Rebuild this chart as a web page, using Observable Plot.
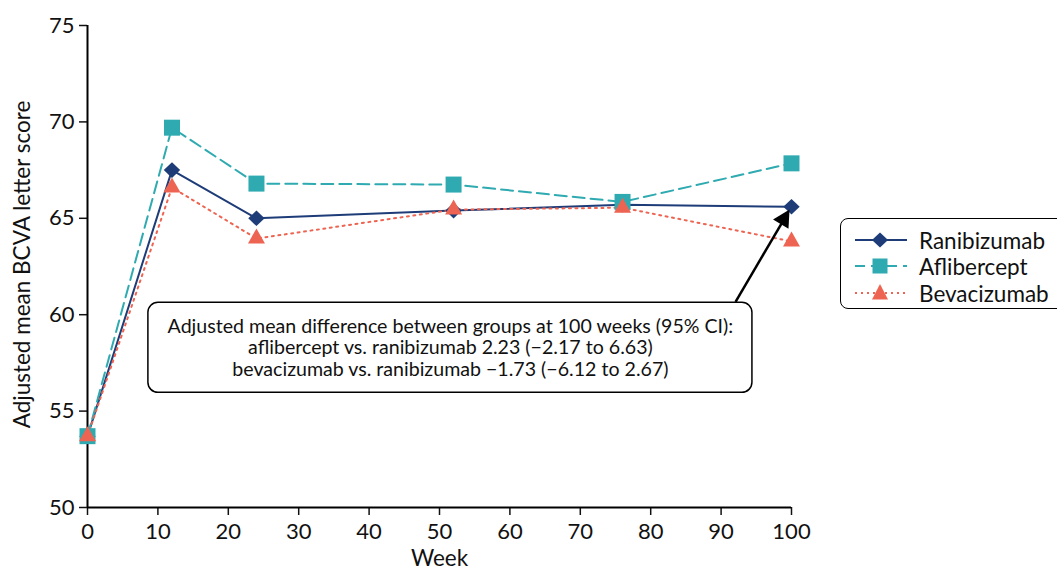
<!DOCTYPE html>
<html>
<head>
<meta charset="utf-8">
<script src="https://cdn.jsdelivr.net/npm/d3@7"></script>
<script src="https://cdn.jsdelivr.net/npm/@observablehq/plot@0.6"></script>
<style>
  html, body { margin: 0; padding: 0; background: #fff; overflow: hidden; }
  #wrap { position: relative; width: 1057px; height: 572px; font-family: Lato, "Noto Sans", sans-serif; }
  #legend { position: absolute; left: 840px; top: 218px; width: 240px; height: 91px;
            border: 1.5px solid #000; border-radius: 8px; box-sizing: border-box; background: #fff; }
  .row { position: absolute; left: 12px; height: 26px; display: flex; align-items: center; font-size: 22.5px; color: #111; }
  .row svg { margin-right: 12px; }
</style>
</head>
<body>
<div id="wrap"><div id="chart"></div><div id="legend"></div></div>
<script>
// ---- data ----
const weeks = [0, 12, 24, 52, 76, 100];
const ranibizumab = [53.7, 67.5, 65.0, 65.4, 65.7, 65.6];
const aflibercept = [53.7, 69.7, 66.8, 66.75, 65.85, 67.85];
const bevacizumab = [53.7, 66.6, 63.95, 65.45, 65.55, 63.8];
const seriesNames = ["Ranibizumab", "Aflibercept", "Bevacizumab"];
const xTicks = [0, 10, 20, 30, 40, 50, 60, 70, 80, 90, 100];
const yTicks = [50, 55, 60, 65, 70, 75];
const xLabel = "Week";
const yLabel = "Adjusted mean BCVA letter score";

// annotation (data coordinates)
const noteLines = [
  "Adjusted mean difference between groups at 100 weeks (95% CI):",
  "aflibercept vs. ranibizumab 2.23 (\u22122.17 to 6.63)",
  "bevacizumab vs. ranibizumab \u22121.73 (\u22126.12 to 2.67)"
];
const noteBox = [{x1: 8.65, x2: 94.45, y1: 55.95, y2: 60.62}];
const noteAnchor = [{x: 51.55, y: 58.3}];
const arrowSeg = [{x1: 92.05, y1: 60.67, x2: 99.5, y2: 65.3, tipX: 99.72, tipY: 65.45}];

// ---- styles ----
const colors = {Ranibizumab: "#1d3c78", Aflibercept: "#2eaab0", Bevacizumab: "#ee6452"};
const dashes = {Ranibizumab: null, Aflibercept: "12,6", Bevacizumab: "2,4.5"};

const diamondSym = {draw(c, s) { const r = 8.2, h = 7.8; c.moveTo(0, -h); c.lineTo(r, 0); c.lineTo(0, h); c.lineTo(-r, 0); c.closePath(); }};
const squareSym = {draw(c, s) { const r = 8; c.moveTo(-r, -r); c.lineTo(r, -r); c.lineTo(r, r); c.lineTo(-r, r); c.closePath(); }};
const triSym = {draw(c, s) { const w = 8.5, h = 15; c.moveTo(0, -h * 2 / 3); c.lineTo(w, h / 3); c.lineTo(-w, h / 3); c.closePath(); }};
const headSym = {draw(c, s) { c.moveTo(0, 0); c.lineTo(9, 17); c.lineTo(-9, 17); c.closePath(); }};
const symbols = {Ranibizumab: diamondSym, Aflibercept: squareSym, Bevacizumab: triSym};

const valuesBy = {Ranibizumab: ranibizumab, Aflibercept: aflibercept, Bevacizumab: bevacizumab};
const tables = Object.fromEntries(seriesNames.map(n => [n, weeks.map((w, i) => ({week: w, value: valuesBy[n][i], series: n}))]));

const seriesMarks = seriesNames.map(n =>
  Plot.line(tables[n], {x: "week", y: "value", stroke: colors[n], strokeWidth: 2, strokeDasharray: dashes[n]})
);
const dotMarks = seriesNames.map(n =>
  Plot.dot(tables[n], {x: "week", y: "value", fill: colors[n], symbol: () => symbols[n], r: 8, stroke: "none"})
);

const chart = Plot.plot({
  width: 1057, height: 572,
  marginLeft: 87, marginRight: 266, marginTop: 25, marginBottom: 65,
  style: {fontFamily: "Lato, 'Noto Sans', sans-serif", fontSize: "22px", color: "#111", background: "white", overflow: "visible"},
  x: {domain: [0, 100]},
  y: {domain: [50, 75]},
  marks: [
    Plot.axisX({ticks: xTicks, tickSize: 8, tickPadding: 8, tickFormat: d => String(d), strokeWidth: 1.5, fontSize: 22, label: null}),
    Plot.axisY({ticks: yTicks, tickSize: 8, tickPadding: 5, tickFormat: d => String(d), strokeWidth: 1.5, fontSize: 22, label: null}),
    Plot.text([xLabel], {frameAnchor: "bottom", dy: 58, text: d => d, fontSize: 22.5, fill: "#111"}),
    Plot.text([yLabel], {frameAnchor: "left", textAnchor: "middle", rotate: -90, dx: -65, dy: -2, text: d => d, fontSize: 22.5, fill: "#111"}),
    Plot.ruleX([0], {stroke: "#000", strokeWidth: 2}),
    Plot.ruleY([50], {stroke: "#000", strokeWidth: 2}),
    ...seriesMarks,
    ...dotMarks,
    Plot.rect(noteBox, {x1: "x1", x2: "x2", y1: "y1", y2: "y2", fill: "white", stroke: "#000", strokeWidth: 1.5, rx: 10}),
    Plot.text(noteAnchor, {x: "x", y: "y", text: () => noteLines.join("\n"), lineHeight: 1.1, fontSize: 19.6, fill: "#111", textAnchor: "middle"}),
    Plot.link(arrowSeg, {x1: "x1", y1: "y1", x2: "x2", y2: "y2", stroke: "#000", strokeWidth: 2.5}),
    Plot.dot(arrowSeg, {x: "tipX", y: "tipY", symbol: () => headSym, r: 8, fill: "#000", stroke: "none", rotate: 31})
  ]
});
document.getElementById("chart").appendChild(chart);

// legend
const legend = document.getElementById("legend");
const rowTops = [8, 34, 61];
seriesNames.forEach((n, i) => {
  const row = document.createElement("div");
  row.className = "row";
  row.style.top = rowTops[i] + "px";
  const shape = n === "Ranibizumab" ? '<path d="M27,5.5 L35,13 L27,20.5 L19,13 Z"/>' :
                n === "Aflibercept" ? '<rect x="19.5" y="5.5" width="15" height="15"/>' :
                '<path d="M27,4 L35,19.5 L19,19.5 Z"/>';
  const dash = dashes[n] ? `stroke-dasharray="${n === "Aflibercept" ? "10,6" : "2,4"}"` : "";
  row.innerHTML = `<svg width="54" height="26"><line x1="2" x2="54" y1="13" y2="13" stroke="${colors[n]}" stroke-width="2" ${dash}/><g fill="${colors[n]}">${shape}</g></svg><span>${n}</span>`;
  legend.appendChild(row);
});
</script>
</body>
</html>
